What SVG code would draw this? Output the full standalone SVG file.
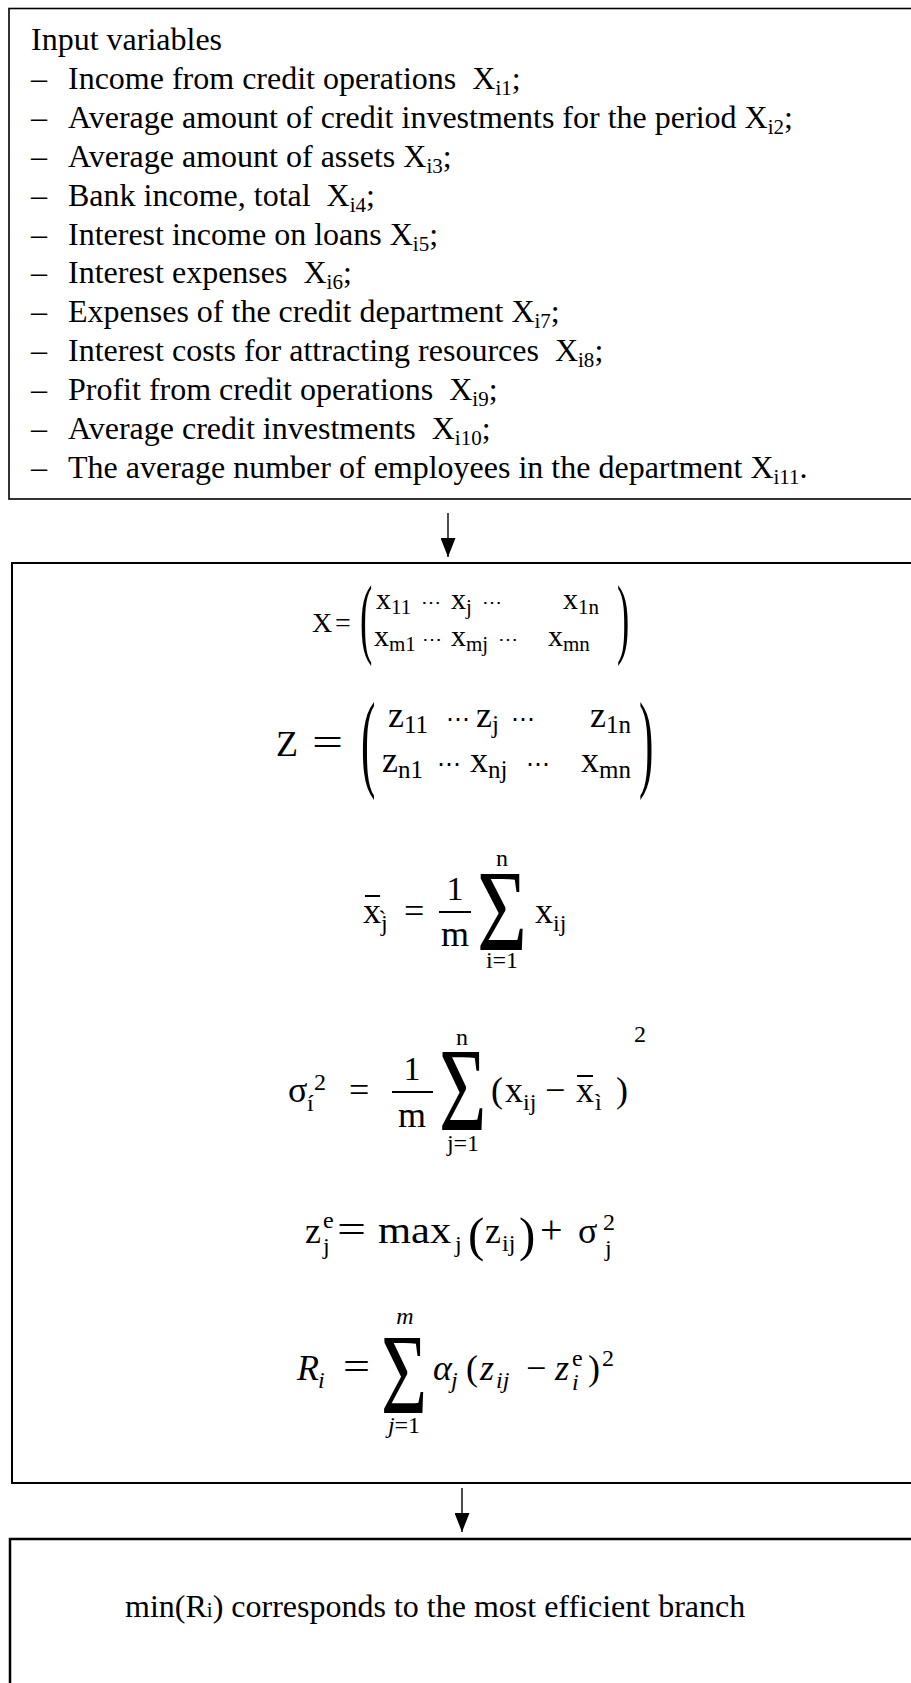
<svg xmlns="http://www.w3.org/2000/svg" width="911" height="1683" viewBox="0 0 911 1683">
<style>
.t{font-family:"Liberation Serif",serif;font-size:32px;fill:#000}
.m{font-family:"Liberation Serif","DejaVu Serif",serif;fill:#000}
.s{font-size:21px}
.big{font-size:36px}
.sm{font-size:24px}
.it{font-style:italic}
.box{fill:#fff;stroke:#000}
.conn{stroke:#000;stroke-width:1.4;fill:none}
.bar{stroke:#000;stroke-width:2}
</style>
<defs>
<marker id="ah" viewBox="0 0 19 15" refX="19" refY="7.5" markerWidth="19" markerHeight="15" markerUnits="userSpaceOnUse" orient="auto">
<path d="M0,0 L19,7.5 L0,15 z" fill="#000"/>
</marker>
</defs>
<rect width="911" height="1683" fill="#fff"/>

<g id="node-input">
<rect class="box" x="9" y="8.5" width="920" height="490.5" stroke-width="1.6"/>
<text class="t" x="31" y="50">Input variables</text>
<g class="t">
<text x="31" y="88.9">–</text><text x="68" y="88.9" xml:space="preserve">Income from credit operations  X<tspan class="s" dy="6">i1</tspan><tspan dy="-6">;</tspan></text>
<text x="31" y="127.8">–</text><text x="68" y="127.8" xml:space="preserve">Average amount of credit investments for the period X<tspan class="s" dy="6">i2</tspan><tspan dy="-6">;</tspan></text>
<text x="31" y="166.7">–</text><text x="68" y="166.7" xml:space="preserve">Average amount of assets X<tspan class="s" dy="6">i3</tspan><tspan dy="-6">;</tspan></text>
<text x="31" y="205.6">–</text><text x="68" y="205.6" xml:space="preserve">Bank income, total  X<tspan class="s" dy="6">i4</tspan><tspan dy="-6">;</tspan></text>
<text x="31" y="244.5">–</text><text x="68" y="244.5" xml:space="preserve">Interest income on loans X<tspan class="s" dy="6">i5</tspan><tspan dy="-6">;</tspan></text>
<text x="31" y="283.4">–</text><text x="68" y="283.4" xml:space="preserve">Interest expenses  X<tspan class="s" dy="6">i6</tspan><tspan dy="-6">;</tspan></text>
<text x="31" y="322.3">–</text><text x="68" y="322.3" xml:space="preserve">Expenses of the credit department X<tspan class="s" dy="6">i7</tspan><tspan dy="-6">;</tspan></text>
<text x="31" y="361.2">–</text><text x="68" y="361.2" xml:space="preserve">Interest costs for attracting resources  X<tspan class="s" dy="6">i8</tspan><tspan dy="-6">;</tspan></text>
<text x="31" y="400.1">–</text><text x="68" y="400.1" xml:space="preserve">Profit from credit operations  X<tspan class="s" dy="6">i9</tspan><tspan dy="-6">;</tspan></text>
<text x="31" y="439">–</text><text x="68" y="439" xml:space="preserve">Average credit investments  X<tspan class="s" dy="6">i10</tspan><tspan dy="-6">;</tspan></text>
<text x="31" y="477.9">–</text><text x="68" y="477.9" xml:space="preserve">The average number of employees in the department X<tspan class="s" dy="6">i11</tspan><tspan dy="-6">.</tspan></text>
</g>
</g>

<g id="node-formulas">
<rect class="box" x="12" y="563" width="920" height="920" stroke-width="2"/>
<!-- F1 -->
<g class="m">
<text x="312" y="632" font-size="28">X</text>
<text x="335" y="632" font-size="28">=</text>
<text transform="translate(360,647) scale(0.42,1)" font-size="88">(</text>
<text transform="translate(617,647) scale(0.42,1)" font-size="88">)</text>
<text y="609" font-size="30"><tspan x="376">x</tspan><tspan font-size="21" dy="5">11</tspan><tspan x="421" dy="-5" font-size="20">⋯</tspan><tspan x="451" font-size="30">x</tspan><tspan font-size="21" dy="5">j</tspan><tspan x="482" dy="-5" font-size="20">⋯</tspan><tspan x="563" font-size="30">x</tspan><tspan font-size="21" dy="5">1n</tspan></text>
<text y="646" font-size="30"><tspan x="374">x</tspan><tspan font-size="21" dy="5">m1</tspan><tspan x="422" dy="-5" font-size="20">⋯</tspan><tspan x="451" font-size="30">x</tspan><tspan font-size="21" dy="5">mj</tspan><tspan x="498" dy="-5" font-size="20">⋯</tspan><tspan x="548" font-size="30">x</tspan><tspan font-size="21" dy="5">mn</tspan></text>
</g>
<!-- F2 -->
<g class="m">
<text x="276" y="756" font-size="36">Z</text>
<text x="312" y="756" font-size="40" textLength="31" lengthAdjust="spacingAndGlyphs">=</text>
<text transform="translate(361,777) scale(0.4,1)" font-size="108">(</text>
<text transform="translate(639,777) scale(0.4,1)" font-size="108">)</text>
<text y="727" font-size="36"><tspan x="388">z</tspan><tspan font-size="25" dy="6">11</tspan><tspan x="446" dy="-6" font-size="24">⋯</tspan><tspan x="476" font-size="36">z</tspan><tspan font-size="25" dy="6">j</tspan><tspan x="511" dy="-6" font-size="24">⋯</tspan><tspan x="590" font-size="36">z</tspan><tspan font-size="25" dy="6">1n</tspan></text>
<text y="772" font-size="36"><tspan x="382">z</tspan><tspan font-size="25" dy="6">n1</tspan><tspan x="437" dy="-6" font-size="24">⋯</tspan><tspan x="470" font-size="36">x</tspan><tspan font-size="25" dy="6">nj</tspan><tspan x="526" dy="-6" font-size="24">⋯</tspan><tspan x="581" font-size="36">x</tspan><tspan font-size="25" dy="6">mn</tspan></text>
</g>
<!-- F3 -->
<g class="m">
<text class="big" x="363" y="923">x</text>
<line class="bar" x1="365" y1="896" x2="380" y2="896"/>
<text class="sm" x="381" y="931">j̀</text>
<text class="big" x="404" y="923">=</text>
<text x="455" y="900" font-size="34" text-anchor="middle">1</text>
<line class="bar" x1="439" y1="912" x2="471" y2="912"/>
<text class="big" x="455" y="946" text-anchor="middle">m</text>
<text transform="translate(477,950) scale(0.74,1)" font-size="116">Σ</text>
<text class="sm" x="502" y="866" text-anchor="middle">n</text>
<text class="sm" x="502" y="968" text-anchor="middle">i=1</text>
<text class="big" x="535" y="923">x</text>
<text class="sm" x="553" y="931">ij</text>
</g>
<!-- F4 -->
<g class="m">
<text class="big" x="288" y="1102">σ</text>
<text class="sm" x="314" y="1090">2</text>
<text class="sm" x="307" y="1111">í</text>
<text class="big" x="349" y="1102">=</text>
<text x="412" y="1080" font-size="34" text-anchor="middle">1</text>
<line class="bar" x1="392" y1="1092" x2="433" y2="1092"/>
<text class="big" x="412" y="1127" text-anchor="middle">m</text>
<text transform="translate(439,1130) scale(0.69,1)" font-size="118">Σ</text>
<text class="sm" x="462" y="1045" text-anchor="middle">n</text>
<text class="sm" x="463" y="1151" text-anchor="middle">j=1</text>
<text class="big" x="491" y="1102">(</text>
<text class="big" x="505" y="1102">x</text>
<text class="sm" x="523" y="1110">ij</text>
<text class="big" x="545" y="1102">−</text>
<text class="big" x="576" y="1102">x</text>
<line class="bar" x1="577" y1="1076" x2="593" y2="1076"/>
<text class="sm" x="595" y="1110">ì</text>
<text class="big" x="616" y="1102">)</text>
<text class="sm" x="634" y="1042">2</text>
</g>
<!-- F5 -->
<g class="m">
<text class="big" x="305" y="1243">z</text>
<text class="sm" x="323" y="1228">e</text>
<text class="sm" x="323" y="1254">j</text>
<text x="337" y="1243" font-size="40" textLength="29" lengthAdjust="spacingAndGlyphs">=</text>
<text transform="translate(378,1243) scale(1.12,1)" font-size="38">max</text>
<text class="sm" x="455" y="1252">j</text>
<text x="468" y="1251" font-size="49">(</text>
<text class="big" x="485" y="1243">z</text>
<text class="sm" x="502" y="1251">ij</text>
<text x="519" y="1251" font-size="49">)</text>
<text x="540" y="1243" font-size="40">+</text>
<text class="big" x="578" y="1243">σ</text>
<text class="sm" x="603" y="1230">2</text>
<text class="sm" x="605" y="1256">j</text>
</g>
<!-- F6 -->
<g class="m">
<text class="big it" x="297" y="1380">R</text>
<text class="sm it" x="318" y="1388">i</text>
<text x="343" y="1380" font-size="40" textLength="27" lengthAdjust="spacingAndGlyphs">=</text>
<text transform="translate(381,1413) scale(0.69,1)" font-size="115">Σ</text>
<text class="sm it" x="405" y="1324" text-anchor="middle">m</text>
<text class="sm" x="404" y="1433" text-anchor="middle"><tspan class="it">j</tspan>=1</text>
<text class="big it" x="433" y="1380">α</text>
<text class="sm it" x="451" y="1388">j</text>
<text class="big" x="466" y="1380">(</text>
<text class="big it" x="480" y="1380">z</text>
<text class="sm it" x="496" y="1388">ij</text>
<text class="big" x="526" y="1380">−</text>
<text class="big it" x="555" y="1380">z</text>
<text class="sm" x="572" y="1366">e</text>
<text class="sm it" x="572" y="1390">i</text>
<text class="big" x="588" y="1380">)</text>
<text class="sm" x="602" y="1366">2</text>
</g>
</g>

<g id="node-result">
<rect class="box" x="10" y="1539" width="920" height="200" stroke-width="2.5"/>
<text class="t" x="125" y="1617">min(R<tspan font-size="21">i</tspan>) corresponds to the most efficient branch</text>
</g>

<g id="connectors">
<line class="conn" x1="448" y1="513" x2="448" y2="557" marker-end="url(#ah)"/>
<line class="conn" x1="462" y1="1488" x2="462" y2="1532" marker-end="url(#ah)"/>
</g>
</svg>
